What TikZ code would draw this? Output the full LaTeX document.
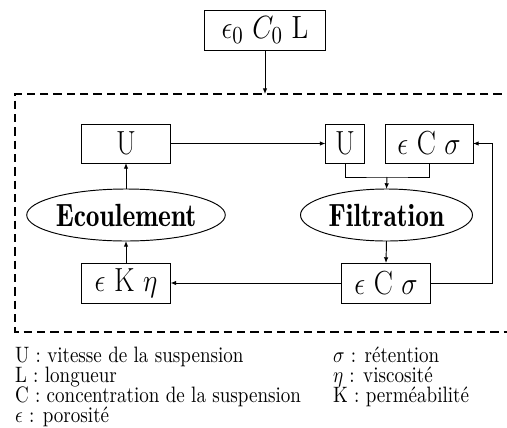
\documentclass[tikz,border=0pt]{standalone}
\usetikzlibrary{shapes.geometric,arrows.meta}
\newcommand\vstretch[1]{\scalebox{1}[1.17]{#1}}
\begin{document}
\begin{tikzpicture}[x=0.525pt,y=-0.525pt,
  every node/.style={inner sep=0pt,outer sep=0pt},
  box/.style={draw,line width=0.5pt,rectangle,minimum height=20.5pt,font=\fontsize{15}{18}\selectfont},
  proc/.style={draw,line width=0.5pt,ellipse,minimum width=90.3pt,minimum height=27.3pt,font=\fontsize{14.4}{17}\fontseries{b}\selectfont},
  conn/.style={line width=0.5pt,-{Latex[length=3pt,width=2.4pt]}},
  link/.style={line width=0.5pt},
  frame/.style={line width=1.1pt,dash pattern=on 4.3pt off 2.7pt},
  leg/.style={anchor=base west,font=\fontsize{10}{12}\selectfont}]
\useasboundingbox (0,0) rectangle (507,428);
% nodes
\node[box,minimum width=64pt,minimum height=21pt] (top) at (265,30) {\vstretch{$\epsilon_0\ C_0\ \mathrm{L}$}};
\node[box,minimum width=46.7pt] (u1) at (126,143.5) {\vstretch{U}};
\node[box,minimum width=20.5pt] (u2) at (345,143.5) {\vstretch{U}};
\node[box,minimum width=46.2pt] (ecs1) at (429,143.5) {\vstretch{$\epsilon$ C $\sigma$}};
\node[proc] (ecoul) at (126,215) {\vstretch{Ecoulement}};
\node[proc] (filt) at (386.5,215) {\vstretch{Filtration}};
\node[box,minimum width=46.7pt,minimum height=21pt] (ekn) at (126,283) {\vstretch{$\epsilon$ K $\eta$}};
\node[box,minimum width=46.7pt,minimum height=21pt] (ecs2) at (386,283) {\vstretch{$\epsilon$ C $\sigma$}};
% coordinates
\coordinate (dtop) at (265,94);
\coordinate (m) at (387,177);
\coordinate (fb) at (492,283);
% dashed frame
\draw[frame] (515,94) -- (15,94) -- (15,332) -- (515,332);
% connectors
\draw[conn] (top.south) -- (dtop);
\draw[conn] (u1.east) -- (u2.west);
\draw[link] (u2.south) |- (m) -| (ecs1.south);
\draw[conn] (m) -- (filt.north);
\draw[conn] (filt.south) -- (ecs2.north);
\draw[conn] (ecs2.west) -- (ekn.east);
\draw[conn] (ekn.north) -- (ecoul.south);
\draw[conn] (ecoul.north) -- (u1.south);
\draw[conn] (ecs2.east) -- (fb) |- (ecs1.east);
% legend
\node[leg] (l1) at (15,362) {\vstretch{U : vitesse de la suspension}};
\node[leg] (l2) at (15,382) {\vstretch{L : longueur}};
\node[leg] (l3) at (15,402) {\vstretch{C : concentration de la suspension}};
\node[leg] (l4) at (15,422) {\vstretch{$\epsilon$ : porosité}};
\node[leg] (r1) at (333,362) {\vstretch{$\sigma$ : rétention}};
\node[leg] (r2) at (333,382) {\vstretch{$\eta$ : viscosité}};
\node[leg] (r3) at (333,402) {\vstretch{K : perméabilité}};
\end{tikzpicture}
\end{document}
